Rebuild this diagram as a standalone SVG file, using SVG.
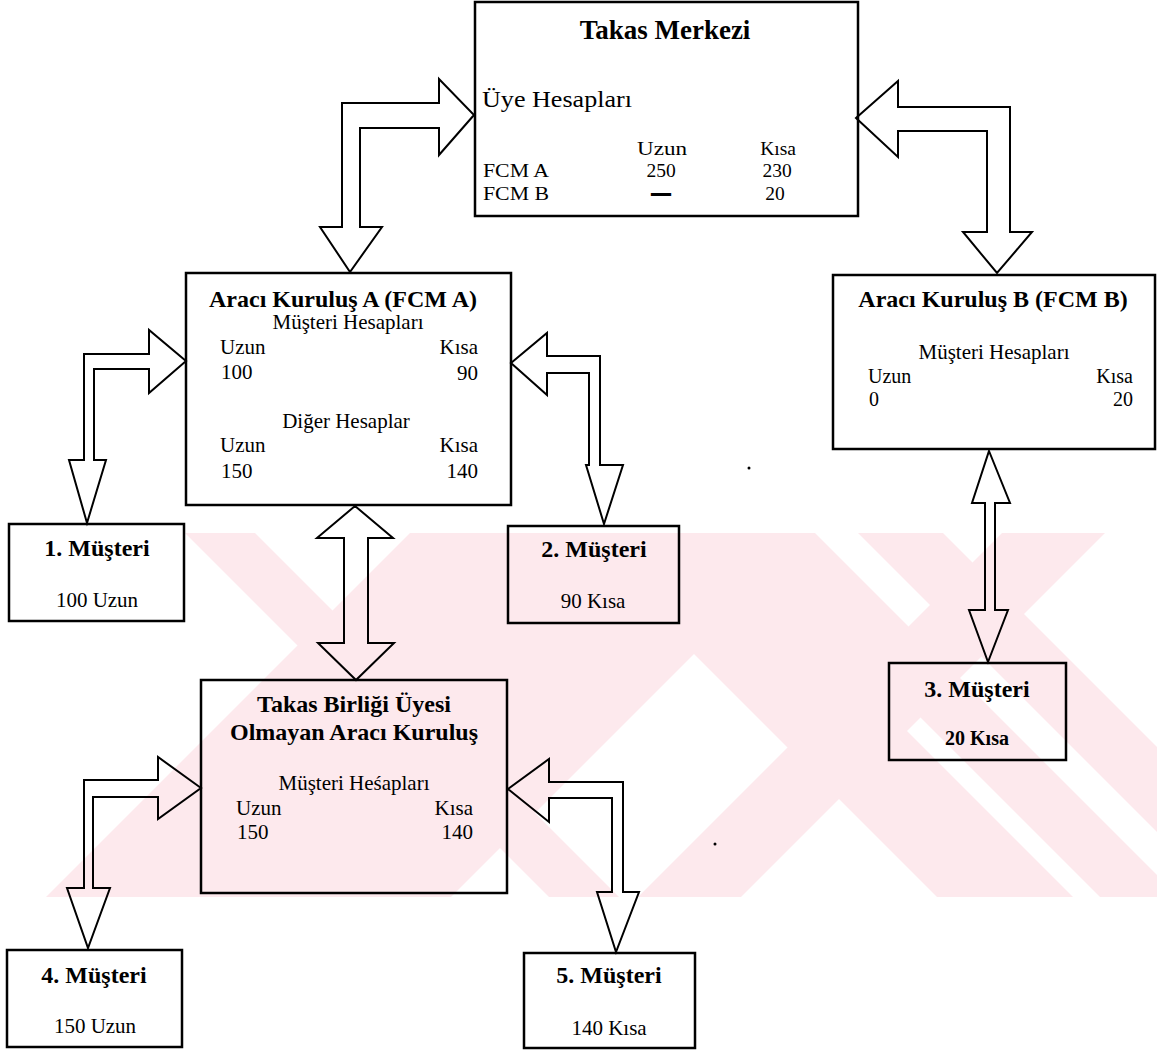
<svg xmlns="http://www.w3.org/2000/svg" width="1157" height="1050" viewBox="0 0 1157 1050">
<style>
.box{fill:none;stroke:#000;stroke-width:2.5}
.arr{fill:none;stroke:#000;stroke-width:2;stroke-linejoin:miter}
text{font-family:"Liberation Serif","Times New Roman",serif;fill:#000}
.r{font-size:21px}
.s{font-size:19.5px}
.b{font-size:24px;font-weight:bold}
.t{font-size:27px;font-weight:bold}
.m{text-anchor:middle}
.e{text-anchor:end}
.wm{fill:#fde9ed}
.wc{fill:#fff}
</style>
<defs>
<clipPath id="wmclip"><rect x="0" y="533" width="1157" height="364"/></clipPath>
</defs>
<rect width="1157" height="1050" fill="#fff"/>
<g id="watermark" clip-path="url(#wmclip)">
<polygon class="wm" points="573,533 815,533 1179,897 937,897"/>
<polygon class="wc" points="876,700 903,700 1100,897 1073,897"/>
<polygon class="wm" points="185,533 255,533 619,897 549,897"/>
<polygon class="wm" points="410,533 815,533 451,897 46,897"/>
<polygon class="wm" points="1002,533 1105,533 741,897 638,897"/>
<polygon class="wm" points="858,533 943,533 1307,897 1222,897"/>
</g>
<g id="connectors">
<polygon class="arr" points="474,115 439,155 439,128 360,128 360,227 382,227 350,272 320,227 342,227 342,103 439,103 439,79"/>
<polygon class="arr" points="856,118 898,81 898,107 1010,107 1010,232 1032,232 997,273 963,232 987,232 987,131 898,131 898,157"/>
<polygon class="arr" points="186,361 149,330 149,354 84,354 84,460 69,460 87,523 106,460 94,460 94,369 149,369 149,393"/>
<polygon class="arr" points="511,363 547,333 547,356 600,356 600,465 623,465 604,524 586,465 589,465 589,373 547,373 547,395"/>
<polygon class="arr" points="355,506 393,538 368,538 368,643 394,643 356,680 318,643 344,643 344,538 317,538"/>
<polygon class="arr" points="989,451 1010,503 995,503 995,610 1008,610 988,662 969,610 985,610 985,503 972,503"/>
<polygon class="arr" points="201,788 158,757 158,780 84,780 84,888 67,888 88,948 110,888 93,888 93,797 158,797 158,819"/>
<polygon class="arr" points="508,789 549,759 549,782 623,782 623,892 639,892 616,952 597,892 612,892 612,798 549,798 549,822"/>
</g>
<g id="takas-merkezi">
<rect class="box" x="475" y="2" width="383" height="214"/>
<text class="t m" x="665" y="39">Takas Merkezi</text>
<text class="r" x="482" y="107" style="font-size:23px" textLength="150" lengthAdjust="spacingAndGlyphs">Üye Hesapları</text>
<text class="s m" x="662" y="155" textLength="50" lengthAdjust="spacingAndGlyphs">Uzun</text>
<text class="s m" x="778" y="155">Kısa</text>
<text class="s" x="483" y="177" textLength="66" lengthAdjust="spacingAndGlyphs">FCM A</text>
<text class="s m" x="661" y="177">250</text>
<text class="s m" x="777" y="177">230</text>
<text class="s" x="483" y="200" textLength="66" lengthAdjust="spacingAndGlyphs">FCM B</text>
<text class="s m" x="661" y="199" font-weight="bold" stroke="#000" stroke-width="1.6" textLength="17" lengthAdjust="spacingAndGlyphs">–</text>
<text class="s m" x="775" y="200">20</text>
</g>
<g id="fcm-a">
<rect class="box" x="186" y="273" width="325" height="232"/>
<text class="b m" x="343" y="307">Aracı Kuruluş A (FCM A)</text>
<text class="r m" x="348" y="329">Müşteri Hesapları</text>
<text class="r" x="220" y="354">Uzun</text>
<text class="r e" x="478" y="354">Kısa</text>
<text class="r" x="221" y="379">100</text>
<text class="r e" x="478" y="380">90</text>
<text class="r m" x="346" y="428">Diğer Hesaplar</text>
<text class="r" x="220" y="452">Uzun</text>
<text class="r e" x="478" y="452">Kısa</text>
<text class="r" x="221" y="478">150</text>
<text class="r e" x="478" y="478">140</text>
</g>
<g id="fcm-b">
<rect class="box" x="833" y="275" width="322" height="174"/>
<text class="b m" x="993" y="307">Aracı Kuruluş B (FCM B)</text>
<text class="r m" x="994" y="359">Müşteri Hesapları</text>
<text class="r" x="868" y="383" style="font-size:20px">Uzun</text>
<text class="r e" x="1133" y="383" style="font-size:20px">Kısa</text>
<text class="r" x="869" y="406" style="font-size:20px">0</text>
<text class="r e" x="1133" y="406" style="font-size:20px">20</text>
</g>
<g id="takas-birligi">
<rect class="box" x="201" y="680" width="306" height="213"/>
<text class="b m" x="354" y="712">Takas Birliği Üyesi</text>
<text class="b m" x="354" y="740">Olmayan Aracı Kuruluş</text>
<text class="r m" x="354" y="790">Müşteri Heśapları</text>
<text class="r" x="236" y="815">Uzun</text>
<text class="r e" x="473" y="815">Kısa</text>
<text class="r" x="237" y="839">150</text>
<text class="r e" x="473" y="839">140</text>
</g>
<g id="musteri-1">
<rect class="box" x="9" y="524" width="175" height="97"/>
<text class="b m" x="97" y="556">1. Müşteri</text>
<text class="r m" x="97" y="607">100 Uzun</text>
</g>
<g id="musteri-2">
<rect class="box" x="508" y="526" width="171" height="97"/>
<text class="b m" x="594" y="557">2. Müşteri</text>
<text class="r m" x="593" y="608">90 Kısa</text>
</g>
<g id="musteri-3">
<rect class="box" x="889" y="663" width="177" height="97"/>
<text class="b m" x="977" y="697">3. Müşteri</text>
<text class="b m" x="977" y="745" style="font-size:20px">20 Kısa</text>
</g>
<g id="musteri-4">
<rect class="box" x="7" y="950" width="175" height="97"/>
<text class="b m" x="94" y="983">4. Müşteri</text>
<text class="r m" x="95" y="1033">150 Uzun</text>
</g>
<g id="musteri-5">
<rect class="box" x="524" y="953" width="171" height="95"/>
<text class="b m" x="609" y="983">5. Müşteri</text>
<text class="r m" x="609" y="1035">140 Kısa</text>
</g>
<circle cx="749" cy="468" r="1.5" fill="#000"/>
<circle cx="715" cy="844" r="1.5" fill="#000"/>
</svg>
